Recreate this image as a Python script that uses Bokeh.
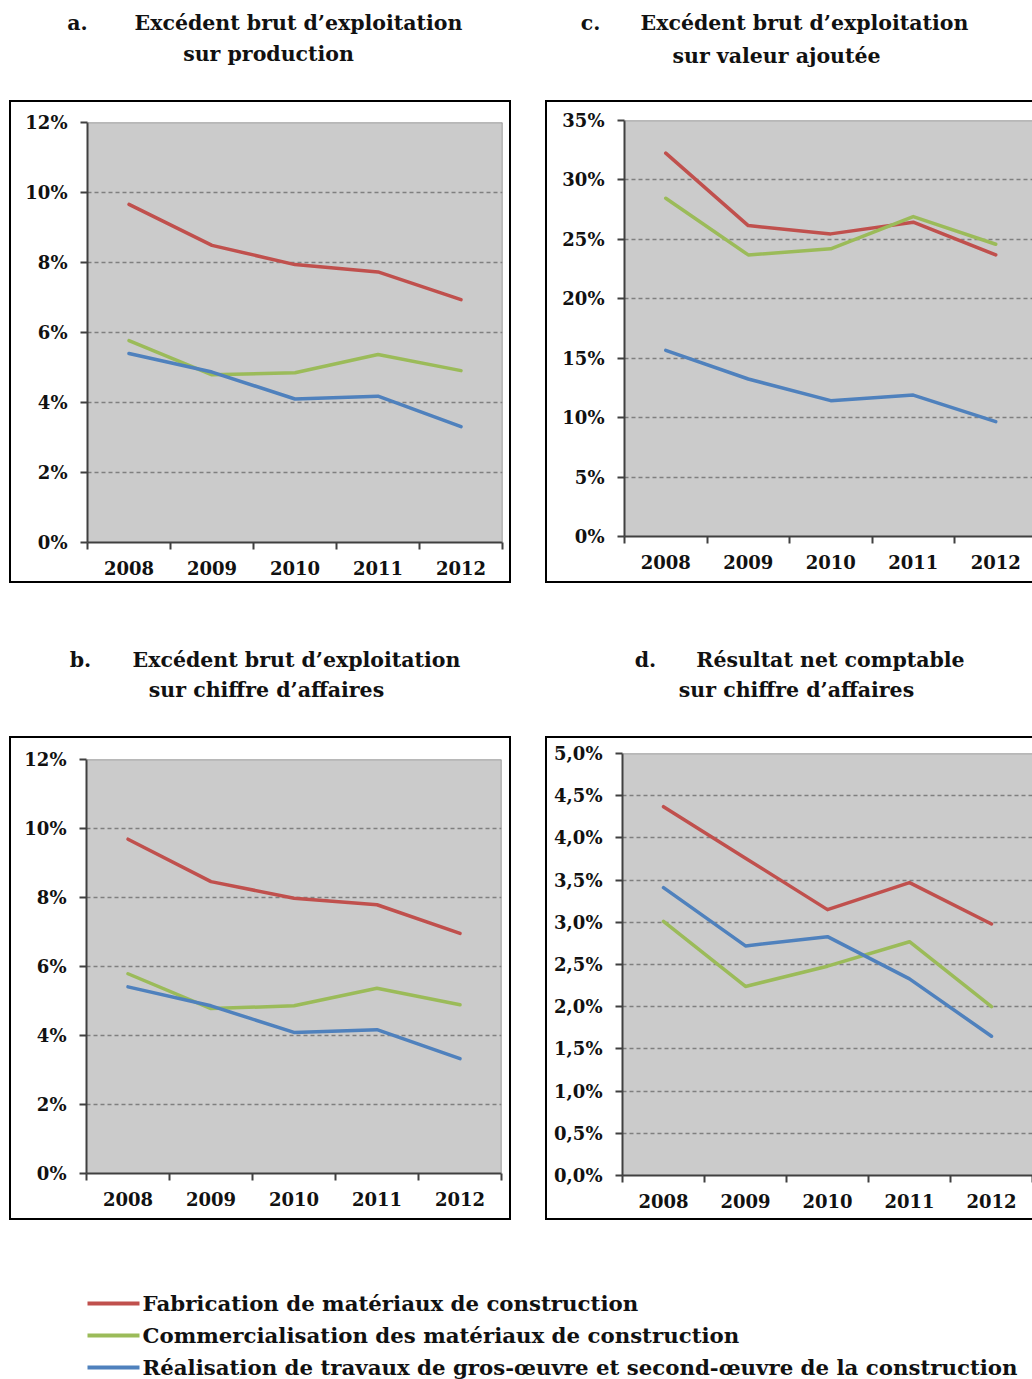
from bokeh.plotting import figure
from bokeh.models import FixedTicker, Span, Range1d, Spacer
from bokeh.layouts import row, column
from bokeh.core.properties import value
from bokeh.embed import file_html
from bokeh.resources import INLINE

# ---------------- data ----------------
years = ["2008", "2009", "2010", "2011", "2012"]
series_names = [
    "Fabrication de matériaux de construction",
    "Commercialisation des matériaux de construction",
    "Réalisation de travaux de gros-œuvre et second-œuvre de la construction",
]
colors = ["#C0504D", "#9BBB59", "#4F81BD"]

# a. EBE / production (%)
a_fab = [9.66, 8.49, 7.94, 7.73, 6.94]
a_com = [5.77, 4.79, 4.85, 5.37, 4.91]
a_rea = [5.40, 4.87, 4.10, 4.18, 3.31]
# b. EBE / chiffre d'affaires (%)
b_fab = [9.69, 8.46, 7.98, 7.79, 6.96]
b_com = [5.79, 4.78, 4.86, 5.37, 4.89]
b_rea = [5.41, 4.86, 4.09, 4.17, 3.33]
# c. EBE / valeur ajoutée (%)
c_fab = [32.25, 26.16, 25.46, 26.44, 23.69]
c_com = [28.46, 23.69, 24.20, 26.92, 24.59]
c_rea = [15.66, 13.25, 11.43, 11.90, 9.66]
# d. Résultat net comptable / chiffre d'affaires (%)
d_fab = [4.37, 3.76, 3.15, 3.47, 2.98]
d_com = [3.01, 2.24, 2.48, 2.77, 2.00]
d_rea = [3.41, 2.72, 2.83, 2.33, 1.65]

ab_ticks = [0, 2, 4, 6, 8, 10, 12]
ab_labels = ["0%", "2%", "4%", "6%", "8%", "10%", "12%"]
c_ticks = [0, 5, 10, 15, 20, 25, 30, 35]
c_labels = ["0%", "5%", "10%", "15%", "20%", "25%", "30%", "35%"]
d_ticks = [0, 0.5, 1.0, 1.5, 2.0, 2.5, 3.0, 3.5, 4.0, 4.5, 5.0]
d_labels = ["0,0%", "0,5%", "1,0%", "1,5%", "2,0%", "2,5%", "3,0%", "3,5%",
            "4,0%", "4,5%", "5,0%"]

titles_top = [("a.", "Excédent brut d’exploitation", "sur production"),
              ("c.", "Excédent brut d’exploitation", "sur valeur ajoutée")]
titles_mid = [("b.", "Excédent brut d’exploitation", "sur chiffre d’affaires"),
              ("d.", "Résultat net comptable", "sur chiffre d’affaires")]

SERIF = "DejaVu Serif"
PAGE_W = 1032


def panel(series, ticks, labels, w, h, mb_l, mb_r, mb_t, mb_b, band, closed_right):
    frame_w = w - mb_l - mb_r
    xmax = frame_w / band
    ymax = ticks[-1]
    p = figure(width=w, height=h, x_range=Range1d(0, xmax), y_range=Range1d(0, ymax),
               output_backend="svg", toolbar_location=None,
               min_border_left=mb_l, min_border_right=mb_r,
               min_border_top=mb_t, min_border_bottom=mb_b)
    p.background_fill_color = "#CBCBCB"
    p.border_fill_color = None
    p.outline_line_color = None
    p.xgrid.visible = False
    p.ygrid.ticker = FixedTicker(ticks=ticks[1:-1])
    p.ygrid.grid_line_color = "#7F7F7F"
    p.ygrid.grid_line_dash = "4 3"
    p.ygrid.grid_line_width = 1.6

    xs = [i + 0.5 for i in range(len(years))]
    for vals, col in zip(series, colors):
        p.line(xs, vals, line_color=col, line_width=3.5, line_cap="round", line_join="round")

    p.add_layout(Span(location=ymax, dimension="width", line_color="#8C8C8C", line_width=1.5))
    if closed_right:
        p.add_layout(Span(location=len(years), dimension="height", line_color="#8C8C8C", line_width=1.5))

    ya = p.yaxis[0]
    ya.ticker = FixedTicker(ticks=ticks)
    ya.major_label_overrides = {t: l for t, l in zip(ticks, labels)}
    ya.major_tick_out = 7
    ya.major_tick_in = 0
    ya.minor_tick_out = 0
    ya.minor_tick_in = 0
    ya.major_label_standoff = 13

    xa = p.xaxis[0]
    xa.ticker = FixedTicker(ticks=xs, minor_ticks=list(range(len(years) + 1)))
    xa.major_label_overrides = {x: y for x, y in zip(xs, years)}
    xa.major_tick_out = 0
    xa.major_tick_in = 0
    xa.minor_tick_out = 7
    xa.minor_tick_in = 0
    xa.major_label_standoff = 11

    for ax in (xa, ya):
        ax.axis_line_color = "#404040"
        ax.axis_line_width = 2
        ax.major_tick_line_color = "#404040"
        ax.major_tick_line_width = 2
        ax.minor_tick_line_color = "#404040"
        ax.minor_tick_line_width = 2
        ax.major_label_text_font = SERIF
        ax.major_label_text_font_style = "bold"
        ax.major_label_text_font_size = "18px"
        ax.major_label_text_color = "#111111"

    sides = ["inset 2px 0 0 0 #000", "inset 0 2px 0 0 #000", "inset 0 -2px 0 0 #000"]
    if closed_right:
        sides.append("inset -2px 0 0 0 #000")
    p.styles = {"box-shadow": ", ".join(sides)}
    # wrap so that sibling plots in a row do not share frame borders
    return column(p, width=w, height=h)


def text_fig(w, h):
    p = figure(width=w, height=h, x_range=Range1d(0, w), y_range=Range1d(h, 0),
               output_backend="svg", toolbar_location=None, min_border=0)
    p.axis.visible = False
    p.grid.visible = False
    p.outline_line_color = None
    p.border_fill_color = None
    p.background_fill_color = None
    return p


def title_fig(h, items, pos):
    p = text_fig(PAGE_W, h)
    xs, ys, ts = [], [], []
    for (letter, l1, l2), (pl, p1, p2) in zip(items, pos):
        for t, (x, y) in ((letter, pl), (l1, p1), (l2, p2)):
            xs.append(x)
            ys.append(y)
            ts.append(t)
    p.text(x=xs, y=ys, text=ts, text_font=value(SERIF), text_font_style="bold",
           text_font_size="20.5px", text_align="center", text_baseline="middle",
           text_color="#111111")
    return p


# layout starts at the page's top-left corner
top = title_fig(100, titles_top,
                [((77, 22), (298, 22), (268, 53)), ((590, 22), (804, 22), (776, 55))])
mid = title_fig(153, titles_mid,
                [((80, 76), (296, 76), (266, 106)), ((645, 76), (830, 76), (796, 106))])

pa = panel([a_fab, a_com, a_rea], ab_ticks, ab_labels, 502, 483, 78, 9, 22, 41, 83, True)
pc = panel([c_fab, c_com, c_rea], c_ticks, c_labels, 487, 483, 79, 0, 20, 47, 82.5, False)
pb = panel([b_fab, b_com, b_rea], ab_ticks, ab_labels, 502, 484, 77, 10, 23, 47, 83, True)
pd = panel([d_fab, d_com, d_rea], d_ticks, d_labels, 487, 484, 77, 0, 17, 45, 82, False)

row1 = row(Spacer(width=9, height=483), pa, Spacer(width=34, height=483), pc)
row2 = row(Spacer(width=9, height=484), pb, Spacer(width=34, height=484), pd)

leg = text_fig(PAGE_W, 159)
leg_y = [83, 115, 147]
leg.segment(x0=[87] * 3, y0=leg_y, x1=[139] * 3, y1=leg_y, line_color=colors, line_width=4)
leg.text(x=[142] * 3, y=leg_y, text=series_names, text_font=value(SERIF),
         text_font_style="bold", text_font_size="21.3px", text_align="left",
         text_baseline="middle", text_color="#111111")

page = column(top, row1, mid, row2, leg)
open("out.html", "w").write(file_html(page, INLINE))
